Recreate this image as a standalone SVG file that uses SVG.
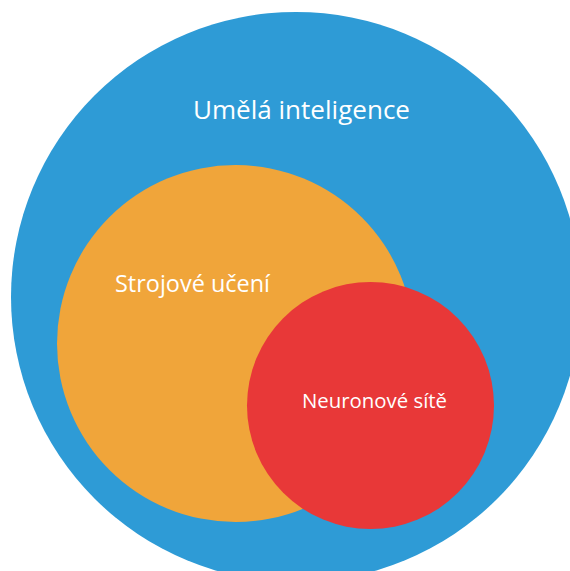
<svg xmlns="http://www.w3.org/2000/svg" width="570" height="571" viewBox="0 0 570 571">
  <style>
    .label { font-family: "Open Sans", "Noto Sans", "Liberation Sans", sans-serif; fill: #ffffff; text-anchor: middle; }
  </style>
  <rect width="570" height="571" fill="#ffffff"/>
  <!-- Artificial intelligence: outer set -->
  <g id="ai">
    <circle cx="296" cy="297" r="285" fill="#2E9BD6"/>
    <text class="label" x="301.5" y="119" font-size="25" textLength="217" lengthAdjust="spacingAndGlyphs">Umělá inteligence</text>
  </g>
  <!-- Machine learning: subset of AI -->
  <g id="ml">
    <circle cx="235.5" cy="343.5" r="178.5" fill="#F0A53A"/>
    <text class="label" x="192.5" y="292" font-size="23.5" textLength="155" lengthAdjust="spacingAndGlyphs">Strojové učení</text>
  </g>
  <!-- Neural networks: overlaps machine learning -->
  <g id="nn">
    <circle cx="370.5" cy="405.5" r="123.5" fill="#E83838"/>
    <text class="label" x="374.5" y="407.5" font-size="20" textLength="145" lengthAdjust="spacingAndGlyphs">Neuronové sítě</text>
  </g>
  <g id="connectors"/>
</svg>
